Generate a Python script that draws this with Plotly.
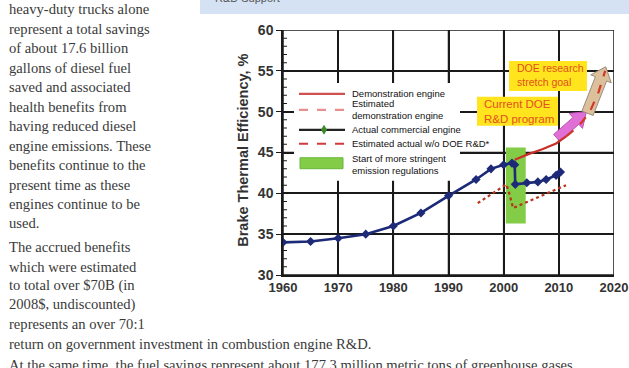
import plotly.graph_objects as go

# ---------------- data ----------------
actual_years = [1960, 1965, 1970, 1975, 1980, 1985, 1990, 1995, 1997.7, 2000, 2001.5, 2002.0, 2002.1, 2004.2, 2006.2, 2007.7, 2009.5, 2010.3]
actual_vals  = [34.0, 34.1, 34.5, 35.0, 36.0, 37.6, 39.7, 41.7, 43.0, 43.5, 43.7, 43.5, 41.1, 41.3, 41.4, 41.7, 42.2, 42.6]

demo_years = [2002.0, 2004.5, 2007.0, 2009.5, 2011.4]
demo_vals  = [44.1, 44.8, 45.4, 46.1, 47.0]

est_demo_years = [2011.4, 2013.5, 2015.5, 2017.2, 2018.4]
est_demo_vals  = [47.0, 48.2, 49.8, 52.4, 55.0]

wo_doe_years = [1995.3, 2000.5, 2001.1, 2001.7, 2011.3]
wo_doe_vals  = [38.8, 41.1, 39.8, 38.2, 41.0]

regulation_years = [2000.4, 2004.0]
regulation_vals  = [36.3, 45.6]

program_arrow = [(2009.6, 46.8), (2015.0, 50.0)]
stretch_arrow = [(2015.2, 49.8), (2018.5, 55.5)]

x_ticks = [1960, 1970, 1980, 1990, 2000, 2010, 2020]
y_ticks = [30, 35, 40, 45, 50, 55, 60]
y_minor = list(range(31, 60))

legend_labels = ["Demonstration engine", "Estimated<br>demonstration engine", "Actual commercial engine",
                 "Estimated actual w/o DOE R&D*", "Start of more stringent<br>emission regulations"]

body_lines = [
    "heavy-duty trucks alone", "represent a total savings", "of about 17.6 billion",
    "gallons of diesel fuel", "saved and associated", "health benefits from",
    "having reduced diesel", "engine emissions. These", "benefits continue to the",
    "present time as these", "engines continue to be", "used.",
    "The accrued benefits", "which were estimated", "to total over $70B (in",
    "2008$, undiscounted)", "represents an over 70:1",
    "return on government investment in combustion engine R&D.",
    "At the same time, the fuel savings represent about 177.3 million metric tons of greenhouse gases",
]
body_y = [9, 29, 48.5, 68, 87.5, 107, 126.5, 146, 165.5, 185, 204, 223, 247, 267, 286, 305.5, 325, 345, 366]

# ---------------- geometry helpers ----------------
W, H = 629, 368
L, R, T, B = 283, 614, 30, 275.5
X0, X1, Y0, Y1 = 1960, 2020, 30, 60
XPP = (X1 - X0) / (R - L)   # years per pixel
YPP = (Y1 - Y0) / (B - T)   # % per pixel

def px(x):
    return (x - L) / (R - L)

def py(y):
    return (B - y) / (B - T)

def d2p(x, y):
    return (L + (x - X0) / XPP, B - (y - Y0) / YPP)

def p2d(X, Y):
    return (X0 + (X - L) * XPP, Y0 + (B - Y) * YPP)

def arrow_pts(s, e, w, hw, hl):
    sx, sy = d2p(*s)
    ex, ey = d2p(*e)
    dx, dy = ex - sx, ey - sy
    ln = (dx * dx + dy * dy) ** 0.5
    ux, uy = dx / ln, dy / ln
    nx, ny = -uy, ux
    bx, by = ex - ux * hl, ey - uy * hl
    pts = [(sx + nx * w, sy + ny * w), (bx + nx * w, by + ny * w), (bx + nx * hw, by + ny * hw),
           (ex, ey), (bx - nx * hw, by - ny * hw), (bx - nx * w, by - ny * w), (sx - nx * w, sy - ny * w),
           (sx + nx * w, sy + ny * w)]
    dpts = [p2d(a, b) for a, b in pts]
    return [p[0] for p in dpts], [p[1] for p in dpts]

GRID = "#1a1a1a"
fig = go.Figure()

# grid lines and frame as thin filled bars (beneath the data)
gw = 1.5 / 2
gx, gy = [], []
for xv in x_ticks:
    hx = gw * XPP
    gx += [xv - hx, xv + hx, xv + hx, xv - hx, xv - hx, None]
    gy += [Y0, Y0, Y1, Y1, Y0, None]
for yv in y_ticks:
    hy = gw * YPP
    gx += [X0, X1, X1, X0, X0, None]
    gy += [yv - hy, yv - hy, yv + hy, yv + hy, yv - hy, None]
fig.add_trace(go.Scatter(x=gx, y=gy, mode="lines", fill="toself", fillcolor=GRID,
                         line=dict(color=GRID, width=0), cliponaxis=False,
                         showlegend=False, hoverinfo="skip"))
# minor ticks on the left axis (inside)
mx, my = [], []
for yv in y_minor:
    hy = 0.5 * YPP
    mx += [X0, X0 + 4 * XPP, X0 + 4 * XPP, X0, X0, None]
    my += [yv - hy, yv - hy, yv + hy, yv + hy, yv - hy, None]
fig.add_trace(go.Scatter(x=mx, y=my, mode="lines", fill="toself", fillcolor=GRID,
                         line=dict(color=GRID, width=0), cliponaxis=False,
                         showlegend=False, hoverinfo="skip"))

# regulations box
rx = [regulation_years[0], regulation_years[1], regulation_years[1], regulation_years[0], regulation_years[0]]
ry = [regulation_vals[0], regulation_vals[0], regulation_vals[1], regulation_vals[1], regulation_vals[0]]
fig.add_trace(go.Scatter(x=rx, y=ry, mode="lines", fill="toself", fillcolor="#82cc48",
                         line=dict(width=0, color="#82cc48"), showlegend=False, hoverinfo="skip"))
# arrows
ax, ay = arrow_pts(*program_arrow, 4.5, 10, 14)
fig.add_trace(go.Scatter(x=ax, y=ay, mode="lines", fill="toself", fillcolor="#e070d6",
                         line=dict(width=1, color="#c050b8"), showlegend=False, hoverinfo="skip"))
ax, ay = arrow_pts(*stretch_arrow, 6, 11, 13)
fig.add_trace(go.Scatter(x=ax, y=ay, mode="lines", fill="toself", fillcolor="#dcc09c",
                         line=dict(width=1, color="#9c8c7c"), showlegend=False, hoverinfo="skip"))

fig.add_trace(go.Scatter(x=wo_doe_years, y=wo_doe_vals, mode="lines",
                         line=dict(color="#b8321e", width=2.2, dash="dot"), showlegend=False))
fig.add_trace(go.Scatter(x=demo_years, y=demo_vals, mode="lines",
                         line=dict(color="#c8302a", width=2.2), showlegend=False))
fig.add_trace(go.Scatter(x=est_demo_years, y=est_demo_vals, mode="lines",
                         line=dict(color="#d0382a", width=2.2, dash="dash"), showlegend=False))
fig.add_trace(go.Scatter(x=actual_years, y=actual_vals, mode="lines+markers",
                         line=dict(color="#1c2a78", width=2.6),
                         marker=dict(symbol="diamond", size=7, color="#1c2a78"), showlegend=False))

shapes = []
# header band (outside plot area)
shapes.append(dict(type="rect", xref="paper", yref="paper", x0=px(200), x1=px(629), y0=py(0), y1=py(14),
                   fillcolor="#d4e2f3", line=dict(width=0), layer="above"))
# legend box
shapes.append(dict(type="rect", xref="paper", yref="paper", x0=px(294), x1=px(460), y0=py(181), y1=py(83),
                   fillcolor="white", line=dict(width=0), layer="above"))
# legend glyphs
def hline(y, color, width, dash="solid"):
    shapes.append(dict(type="line", xref="paper", yref="paper", x0=px(299), x1=px(345), y0=py(y), y1=py(y),
                       line=dict(color=color, width=width, dash=dash), layer="above"))
hline(94, "#d05050", 2.2)
hline(110, "#e89090", 2.2, "dash")
hline(130, "#222222", 2.2)
hline(144, "#d03a3a", 2.2, "dash")
cx, cy = 324, 130
shapes.append(dict(type="path", xref="paper", yref="paper",
                   path=f"M {px(cx-3)},{py(cy)} L {px(cx)},{py(cy-5)} L {px(cx+3)},{py(cy)} L {px(cx)},{py(cy+5)} Z",
                   fillcolor="#3a8a2a", line=dict(width=0), layer="above"))
shapes.append(dict(type="rect", xref="paper", yref="paper", x0=px(300), x1=px(343), y0=py(169), y1=py(158),
                   fillcolor="#82cc48", line=dict(color="#6ab838", width=1), layer="above"))
# yellow label boxes
shapes.append(dict(type="rect", xref="paper", yref="paper", x0=px(509), x1=px(587), y0=py(91), y1=py(61),
                   fillcolor="#ffe41e", line=dict(width=0), layer="above"))
shapes.append(dict(type="rect", xref="paper", yref="paper", x0=px(477), x1=px(558), y0=py(126), y1=py(97),
                   fillcolor="#ffe41e", line=dict(width=0), layer="above"))

ann = []
for t, y in zip(body_lines, body_y):
    ann.append(dict(text=t, xref="paper", yref="paper", x=px(7), y=py(y), xanchor="left", yanchor="middle",
                    showarrow=False, font=dict(family="Liberation Serif", size=14.6, color="#3a3a3a")))
ann.append(dict(text="R&D Support", xref="paper", yref="paper", x=px(213), y=py(-2), xanchor="left",
                yanchor="middle", showarrow=False, font=dict(family="Liberation Sans", size=11, color="#555")))
ann.append(dict(text="Brake Thermal Efficiency, %", xref="paper", yref="paper", x=px(243), y=py(151),
                xanchor="center", yanchor="middle", textangle=-90, showarrow=False,
                font=dict(family="Liberation Sans", size=14.5, color="#333", weight="bold")))
leg_y = [94, 110, 130, 144, 164.5]
for t, y in zip(legend_labels, leg_y):
    ann.append(dict(text=t, xref="paper", yref="paper", x=px(350), y=py(y), xanchor="left", yanchor="middle",
                    align="left", showarrow=False, font=dict(family="Liberation Sans", size=9.5, color="#111")))
ann.append(dict(text="DOE research<br>stretch goal", xref="paper", yref="paper", x=px(515), y=py(75.5),
                xanchor="left", yanchor="middle", align="left", showarrow=False,
                font=dict(family="Liberation Sans", size=10.5, color="#e2501e")))
ann.append(dict(text="Current DOE<br>R&D program", xref="paper", yref="paper", x=px(482), y=py(111.5),
                xanchor="left", yanchor="middle", align="left", showarrow=False,
                font=dict(family="Liberation Sans", size=11.5, color="#e2501e")))

fig.update_layout(
    template="none",
    width=W, height=H, margin=dict(l=L, r=W - R, t=T, b=H - B, pad=0),
    paper_bgcolor="white", plot_bgcolor="white",
    shapes=shapes, annotations=ann, showlegend=False,
    xaxis=dict(range=[X0, X1], tickvals=x_ticks, ticktext=[str(v) for v in x_ticks],
               showgrid=True, gridcolor=GRID, gridwidth=1.5, zeroline=False,
               showline=True, linecolor=GRID, linewidth=1.5, ticks="",
               tickfont=dict(family="Liberation Sans", size=13, color="#333", weight="bold")),
    yaxis=dict(range=[Y0, Y1], tickvals=y_ticks, ticktext=[str(v) for v in y_ticks],
               showgrid=True, gridcolor=GRID, gridwidth=1.5, zeroline=False,
               showline=True, linecolor=GRID, linewidth=1.5,
               ticks="outside", ticklen=5, tickcolor=GRID,
               tickfont=dict(family="Liberation Sans", size=14, color="#333", weight="bold")),
)

fig.write_html("out.html")
